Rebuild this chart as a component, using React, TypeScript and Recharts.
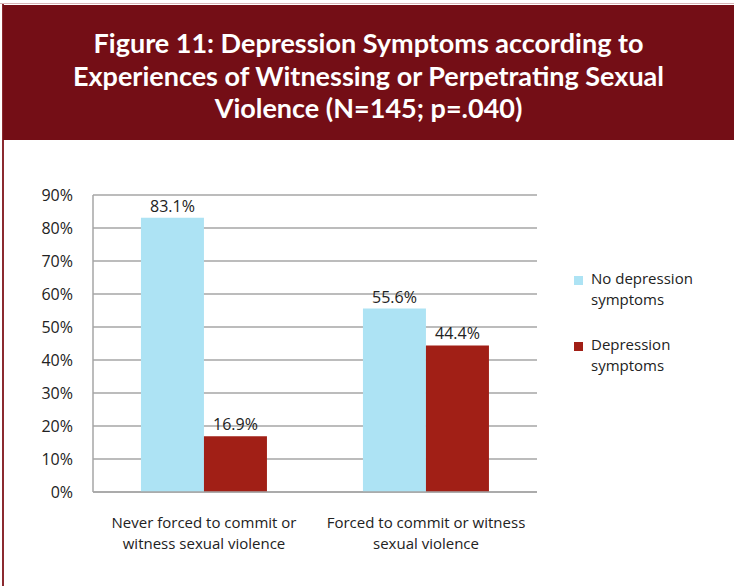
import React from 'react'
import { BarChart, Bar, XAxis, YAxis, CartesianGrid, LabelList } from 'recharts'

const CATEGORIES = [
  ['Never forced to commit or', 'witness sexual violence'],
  ['Forced to commit or witness', 'sexual violence'],
]
const NO_DEPRESSION = [83.1, 55.6]
const DEPRESSION = [16.9, 44.4]
const Y_TICKS = [0, 10, 20, 30, 40, 50, 60, 70, 80, 90]
const SERIES_NAMES = ['No depression symptoms', 'Depression symptoms']
const LEGEND_LINES = [['No depression', 'symptoms'], ['Depression', 'symptoms']]

const BLUE = '#ade3f4'
const RED = '#a11f16'
const FONT = '"Open Sans", "Liberation Sans", sans-serif'
const FS = 15
const NUM_FS = 16

const data = CATEGORIES.map((c, i) => ({
  name: c.join(' '),
  noDep: NO_DEPRESSION[i],
  dep: DEPRESSION[i],
}))

function CatTick(props: any) {
  const { x, y, payload } = props
  const lines = CATEGORIES[payload.index] || [payload.value]
  return (
    <g transform={`translate(${x},${y})`}>
      {lines.map((l, i) => (
        <text key={i} x={0} y={0} dy={28 + i * 21} textAnchor="middle" fill="#222" fontSize={FS} fontFamily={FONT}>
          {l}
        </text>
      ))}
    </g>
  )
}

function LegendBox() {
  const colors = [BLUE, RED]
  return (
    <div style={{ position: 'absolute', left: 574, top: 268, fontFamily: FONT, fontSize: FS, color: '#222', lineHeight: '21px' }}>
      {LEGEND_LINES.map((lines, i) => (
        <div key={i} title={SERIES_NAMES[i]} style={{ display: 'flex', alignItems: 'flex-start', marginBottom: 24 }}>
          <div style={{ width: 9, height: 9, background: colors[i], marginTop: 8, marginRight: 8 }} />
          <div>
            {lines.map((l, j) => <div key={j}>{l}</div>)}
          </div>
        </div>
      ))}
    </div>
  )
}

export default function App() {
  return (
    <div style={{ position: 'absolute', left: 0, top: 0, width: 734, height: 586, background: '#fff', overflow: 'hidden' }}>
      <div style={{ position: 'absolute', left: 0, top: 3, width: 734, height: 1, background: '#d9b5b8' }} />
      <div style={{ position: 'absolute', left: 2, top: 4, width: 2, height: 582, background: '#8b2a30' }} />
      <div
        style={{
          position: 'absolute', left: 3, top: 5, width: 731, height: 135, background: '#740e16',
          color: '#fff', fontFamily: 'Lato, "DejaVu Sans", sans-serif', fontWeight: 700, fontSize: 27,
          lineHeight: '32.5px', textAlign: 'center', paddingTop: 22, boxSizing: 'border-box',
        }}
      >
        Figure 11: Depression Symptoms according to<br />
        Experiences of Witnessing or Perpetrating Sexual<br />
        Violence (N=145; p=.040)
      </div>
      <div style={{ position: 'absolute', left: 0, top: 0 }}>
        <BarChart
          width={734}
          height={586}
          data={data}
          margin={{ top: 195, right: 197, left: 33, bottom: 34 }}
          barCategoryGap="21.6%"
          barGap={0}
        >
          <CartesianGrid vertical={false} stroke="#a6a6a6" strokeWidth={1.5} />
          <XAxis
            dataKey="name"
            tick={<CatTick />}
            tickLine={false}
            axisLine={{ stroke: '#a6a6a6', strokeWidth: 1.5 }}
            height={60}
            interval={0}
          />
          <YAxis
            domain={[0, 90]}
            ticks={Y_TICKS}
            tickFormatter={(v) => `${v}%`}
            tickLine={false}
            axisLine={{ stroke: '#a6a6a6', strokeWidth: 1.5 }}
            tick={{ fontSize: NUM_FS, fill: '#222', fontFamily: FONT }}
            width={60}
            tickMargin={14}
          />
          <Bar dataKey="noDep" name={SERIES_NAMES[0]} fill={BLUE} isAnimationActive={false}>
            <LabelList dataKey="noDep" position="top" offset={6} formatter={(v: any) => `${v}%`} style={{ fontSize: NUM_FS, fill: '#222', fontFamily: FONT }} />
          </Bar>
          <Bar dataKey="dep" name={SERIES_NAMES[1]} fill={RED} isAnimationActive={false}>
            <LabelList dataKey="dep" position="top" offset={6} formatter={(v: any) => `${v}%`} style={{ fontSize: NUM_FS, fill: '#222', fontFamily: FONT }} />
          </Bar>
        </BarChart>
      </div>
      <LegendBox />
    </div>
  )
}
